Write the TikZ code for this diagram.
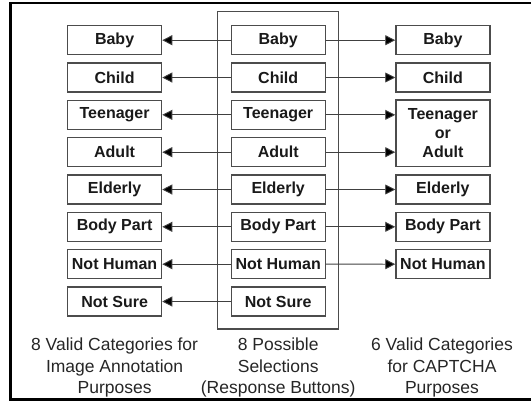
\documentclass[tikz,border=0pt]{standalone}
\usepackage{fontspec}
\setmainfont{Liberation Sans}
\usetikzlibrary{arrows.meta}
\begin{document}
\begin{tikzpicture}[x=1pt,y=-1pt,
  catbox/.style={draw=black!70,line width=1.3pt,minimum width=94pt,minimum height=29pt,inner sep=0pt,
    font=\fontsize{16}{19}\selectfont\bfseries,text=black!90,align=center},
  arr/.style={draw=black!75,line width=0.9pt,-{Triangle[length=10pt,width=10pt,fill=black]}},
  caption/.style={font=\fontsize{17.5}{21.2}\selectfont,text=black!85,align=center,anchor=north,inner sep=0pt}]
\useasboundingbox (0,0) rectangle (531,402);
\draw[line width=2.6pt] (545,2.8) -- (10.7,2.8) -- (10.7,399.5) -- (545,399.5);
\draw[draw=black!70,line width=1.2pt] (217.5,11.7) rectangle (338.8,329);
\foreach \n/\t [count=\i from 0] in {Baby/Baby,Child/Child,Teen/Teenager,Adult/Adult,Eld/Elderly,Body/Body Part,NH/Not Human,NS/Not Sure}{
  \node[catbox] (l\n) at (114.6,{40.2+37.33*\i}) {\t};
  \node[catbox] (m\n) at (278.2,{40.2+37.33*\i}) {\t};
}
\node[catbox] (rBaby) at (442.9,40.2) {Baby};
\node[catbox] (rChild) at (442.9,77.5) {Child};
\node[catbox,minimum height=66.5pt] (rTA) at (442.9,133.2) {Teenager\\or\\Adult};
\node[catbox] (rEld) at (442.9,189.5) {Elderly};
\node[catbox] (rBody) at (442.9,226.85) {Body Part};
\node[catbox] (rNH) at (442.9,264.2) {Not Human};
\foreach \n in {Baby,Child,Teen,Adult,Eld,Body,NH,NS}{
  \draw[arr] (m\n.west) -- (l\n.east);
}
\draw[arr] (mBaby.east) -- (rBaby.west);
\draw[arr] (mChild.east) -- (rChild.west);
\draw[arr] (mTeen.east) -- (mTeen.east -| rTA.west);
\draw[arr] (mAdult.east) -- (mAdult.east -| rTA.west);
\draw[arr] (mEld.east) -- (rEld.west);
\draw[arr] (mBody.east) -- (rBody.west);
\draw[arr] (mNH.east) -- (rNH.west);
\node[caption] (capL) at (114.6,338) {8 Valid Categories for\\Image Annotation\\Purposes};
\node[caption] (capM) at (278.2,338) {8 Possible\\Selections\\(Response Buttons)};
\node[caption] (capR) at (442.0,338) {6 Valid Categories\\for CAPTCHA\\Purposes};
\end{tikzpicture}
\end{document}
